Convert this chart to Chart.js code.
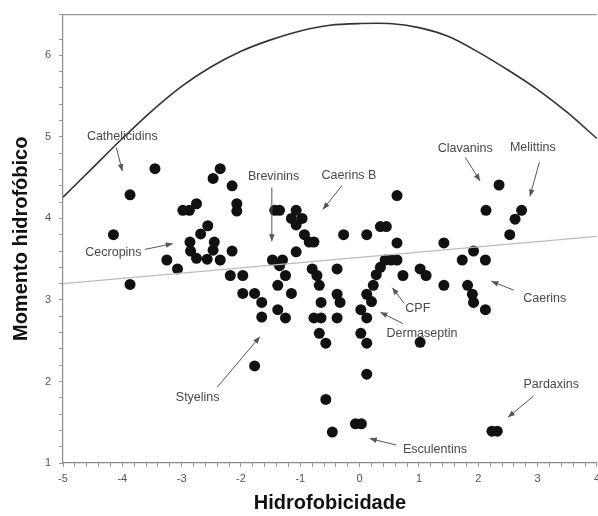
<!DOCTYPE html>
<html>
<head>
<meta charset="utf-8">
<script src="https://cdn.jsdelivr.net/npm/chart.js@4.4.1/dist/chart.umd.min.js"></script>
<style>
  html, body { margin: 0; padding: 0; background: #fff; overflow: hidden; }
  #wrap { width: 605px; height: 516px; }
</style>
</head>
<body>
<div id="wrap"><canvas id="chart" width="605" height="516"></canvas></div>
<script>
// peptide points (hydrophobicity, hydrophobic moment)
const hydrophobicity = [
  -3.45, -3.87, -4.15, -3.87,
  -2.35, -2.47, -2.15, -2.75, -2.87, -2.98, -2.07, -2.07,
  -2.56, -2.68, -2.45, -2.86, -2.47, -2.85, -2.75, -2.57,
  -3.25, -3.07, -2.15, -2.35, -2.18, -1.97, -1.97, -1.77, -1.65, -1.65, -1.77,
  -1.43, -1.35, -1.07, -1.15, -0.97, -1.07, -0.93, -0.85, -0.77, -1.07,
  -1.47, -1.30, -1.35, -1.25, -1.38, -1.15, -1.38, -1.25,
  -0.80, -0.72, -0.68, -0.65, -0.77, -0.65, -0.68, -0.57,
  -0.38, -0.38, -0.33, -0.38, -0.27,
  0.12, 0.35, 0.45, 0.63, 0.63, 0.43, 0.53, 0.63, 0.35, 0.28, 0.23,
  0.12, 0.20, 0.02, 0.12, 0.02, 0.12, 0.12, 0.73, 1.02, 1.12, 1.02,
  -0.57, -0.46, -0.07, 0.03, 2.23, 2.32,
  1.42, 1.92, 1.73, 2.12, 1.42, 1.82, 1.90, 1.92, 2.12,
  2.35, 2.13, 2.73, 2.62, 2.53
];
const moment = [
  4.61, 4.29, 3.80, 3.19,
  4.61, 4.49, 4.40, 4.18, 4.10, 4.10, 4.18, 4.09,
  3.91, 3.81, 3.71, 3.71, 3.61, 3.60, 3.51, 3.50,
  3.49, 3.38, 3.60, 3.49, 3.30, 3.30, 3.08, 3.08, 2.97, 2.79, 2.19,
  4.10, 4.10, 4.10, 4.00, 4.00, 3.92, 3.80, 3.71, 3.71, 3.59,
  3.49, 3.49, 3.42, 3.30, 3.18, 3.08, 2.88, 2.78,
  3.38, 3.30, 3.18, 2.97, 2.78, 2.78, 2.59, 2.47,
  3.38, 3.07, 2.97, 2.78, 3.80,
  3.80, 3.90, 3.90, 4.28, 3.70, 3.49, 3.49, 3.49, 3.40, 3.31, 3.18,
  3.07, 2.98, 2.88, 2.78, 2.59, 2.47, 2.09, 3.30, 3.38, 3.30, 2.48,
  1.78, 1.38, 1.48, 1.48, 1.39, 1.39,
  3.70, 3.60, 3.49, 3.49, 3.18, 3.18, 3.07, 2.97, 2.88,
  4.41, 4.10, 4.10, 3.99, 3.80
];

// upper boundary curve
const curveX = [-5, -4.5, -4, -3.5, -3, -2.5, -2, -1.5, -1, -0.5, 0, 0.5, 1, 1.5, 2, 2.5, 3, 3.5, 4];
const curveY = [4.26, 4.62, 4.98, 5.32, 5.62, 5.86, 6.05, 6.19, 6.3, 6.37, 6.39, 6.39, 6.34, 6.23, 6.04, 5.82, 5.58, 5.3, 4.98];

// regression line
const trendX = [-5, 4];
const trendY = [3.2, 3.78];

// family labels: text, label centre, arrow start, arrow tip (data units)
const families = [
  { text: 'Cathelicidins', at: [-4.0, 5.01], from: [-4.1, 4.87], to: [-4.0, 4.58] },
  { text: 'Cecropins',     at: [-4.15, 3.58], from: [-3.62, 3.62], to: [-3.15, 3.69] },
  { text: 'Brevinins',     at: [-1.45, 4.51], from: [-1.48, 4.38], to: [-1.48, 3.72] },
  { text: 'Caerins B',     at: [-0.18, 4.52], from: [-0.3, 4.40], to: [-0.62, 4.11] },
  { text: 'Clavanins',     at: [1.78, 4.86], from: [1.78, 4.75], to: [2.03, 4.46] },
  { text: 'Melittins',     at: [2.92, 4.87], from: [3.03, 4.69], to: [2.87, 4.27] },
  { text: 'Caerins',       at: [3.12, 3.02], from: [2.6, 3.12], to: [2.22, 3.23] },
  { text: 'CPF',           at: [0.98, 2.89], from: [0.75, 2.96], to: [0.55, 3.15] },
  { text: 'Dermaseptin',   at: [1.05, 2.59], from: [0.73, 2.71], to: [0.35, 2.85] },
  { text: 'Styelins',      at: [-2.73, 1.80], from: [-2.4, 1.93], to: [-1.68, 2.55] },
  { text: 'Esculentins',   at: [1.27, 1.16], from: [0.62, 1.22], to: [0.17, 1.30] },
  { text: 'Pardaxins',     at: [3.23, 1.96], from: [2.93, 1.82], to: [2.5, 1.56] }
];

const points = hydrophobicity.map((x, i) => ({ x: x, y: moment[i] }));
const curve = curveX.map((x, i) => ({ x: x, y: curveY[i] }));
const trend = trendX.map((x, i) => ({ x: x, y: trendY[i] }));

function isWhole(v) {
  return Math.abs(v - Math.round(v)) < 1e-6;
}

const familyLabels = {
  id: 'familyLabels',
  afterDatasetsDraw(chart) {
    const ctx = chart.ctx;
    const xs = chart.scales.x, ys = chart.scales.y;
    ctx.save();
    ctx.font = '12.5px "Liberation Sans", Arial, sans-serif';
    ctx.textAlign = 'center';
    ctx.textBaseline = 'middle';
    families.forEach(f => {
      const x0 = xs.getPixelForValue(f.from[0]), y0 = ys.getPixelForValue(f.from[1]);
      const x1 = xs.getPixelForValue(f.to[0]), y1 = ys.getPixelForValue(f.to[1]);
      ctx.strokeStyle = '#555';
      ctx.fillStyle = '#555';
      ctx.lineWidth = 1;
      ctx.beginPath();
      ctx.moveTo(x0, y0);
      ctx.lineTo(x1, y1);
      ctx.stroke();
      const a = Math.atan2(y1 - y0, x1 - x0);
      ctx.beginPath();
      ctx.moveTo(x1, y1);
      ctx.lineTo(x1 - 7 * Math.cos(a) + 2.8 * Math.sin(a), y1 - 7 * Math.sin(a) - 2.8 * Math.cos(a));
      ctx.lineTo(x1 - 7 * Math.cos(a) - 2.8 * Math.sin(a), y1 - 7 * Math.sin(a) + 2.8 * Math.cos(a));
      ctx.closePath();
      ctx.fill();
      ctx.fillStyle = '#484848';
      ctx.fillText(f.text, xs.getPixelForValue(f.at[0]), ys.getPixelForValue(f.at[1]));
    });
    // top frame line
    const area = chart.chartArea;
    ctx.strokeStyle = '#999';
    ctx.lineWidth = 1.2;
    ctx.beginPath();
    ctx.moveTo(area.left, area.top);
    ctx.lineTo(area.right, area.top);
    ctx.stroke();
    ctx.restore();
  }
};

const ctx = document.getElementById('chart').getContext('2d');
new Chart(ctx, {
  type: 'scatter',
  data: {
    datasets: [
      {
        data: curve,
        showLine: true,
        borderColor: '#333',
        borderWidth: 1.6,
        pointRadius: 0,
        tension: 0.3,
        fill: false
      },
      {
        data: trend,
        showLine: true,
        borderColor: '#bcbcbc',
        borderWidth: 1.1,
        pointRadius: 0,
        fill: false
      },
      {
        data: points,
        pointRadius: 5.5,
        pointBackgroundColor: '#111',
        pointBorderWidth: 0,
        pointBorderColor: '#111'
      }
    ]
  },
  options: {
    responsive: false,
    animation: false,
    layout: { padding: { top: 10, right: 4, left: 0, bottom: 0 } },
    plugins: {
      legend: { display: false },
      tooltip: { enabled: false }
    },
    scales: {
      x: {
        type: 'linear',
        min: -5,
        max: 4,
        afterFit: s => { s.height = 53; },
        border: { color: '#8a8a8a', width: 1.2 },
        grid: { drawOnChartArea: false, tickLength: 4, color: '#999' },
        ticks: {
          stepSize: 0.2,
          autoSkip: false,
          maxRotation: 0,
          padding: 5,
          color: '#555',
          font: { family: '"Liberation Sans", Arial, sans-serif', size: 11 },
          callback: v => isWhole(v) ? String(Math.round(v)) : ''
        },
        title: {
          display: true,
          text: 'Hidrofobicidade',
          color: '#111',
          font: { family: '"Liberation Sans", Arial, sans-serif', size: 20, weight: 'bold' },
          padding: { top: 0, bottom: 1 }
        }
      },
      y: {
        type: 'linear',
        min: 1,
        max: 6.5,
        afterFit: s => { s.width = 63; },
        border: { color: '#8a8a8a', width: 1.2 },
        grid: { drawOnChartArea: false, tickLength: 4, color: '#999' },
        ticks: {
          stepSize: 0.2,
          autoSkip: false,
          padding: 8,
          color: '#555',
          font: { family: '"Liberation Sans", Arial, sans-serif', size: 11 },
          callback: v => isWhole(v) ? String(Math.round(v)) : ''
        },
        title: {
          display: true,
          text: 'Momento hidrofóbico',
          color: '#111',
          font: { family: '"Liberation Sans", Arial, sans-serif', size: 20, weight: 'bold' },
          padding: { top: 9, bottom: 0 }
        }
      }
    }
  },
  plugins: [familyLabels]
});
</script>
</body>
</html>
